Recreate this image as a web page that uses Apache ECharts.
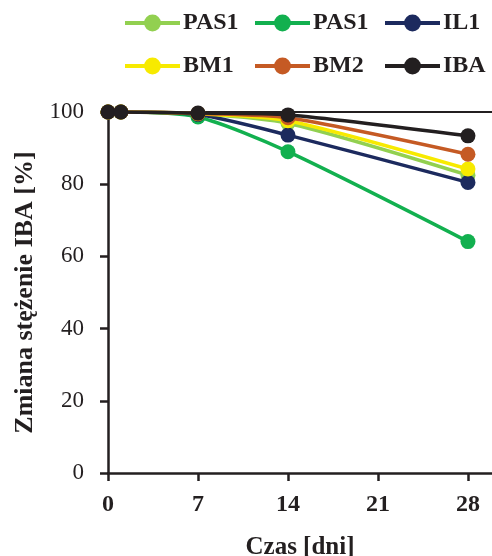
<!DOCTYPE html>
<html>
<head>
<meta charset="utf-8">
<script src="https://cdn.jsdelivr.net/npm/echarts@6/dist/echarts.min.js"></script>
<style>
  html, body { margin: 0; padding: 0; background: #fff; }
  #main { width: 492px; height: 556px; }
</style>
</head>
<body>
<div id="main"></div>
<script>
var chart = echarts.init(document.getElementById('main'));

// dni pomiaru
var days = [0, 1, 7, 14, 28];
var xTicks = [0, 7, 14, 21, 28];
var yTicks = [0, 20, 40, 60, 80, 100];

// zmiana stezenia IBA [%]
var pas1a = [100, 100, 99.5, 96.9, 82.5];
var pas1b = [100, 100, 98.6, 89.0, 64.1];
var il1 = [100, 100, 99.3, 93.6, 80.5];
var bm1 = [100, 100, 99.5, 97.6, 84.2];
var bm2 = [100, 100, 99.6, 98.4, 88.3];
var iba = [100, 100, 99.7, 99.2, 93.4];

var keys = ['PAS1a', 'PAS1b', 'IL1', 'BM1', 'BM2', 'IBA'];
var labels = { PAS1a: 'PAS1', PAS1b: 'PAS1', IL1: 'IL1', BM1: 'BM1', BM2: 'BM2', IBA: 'IBA' };
var values = [pas1a, pas1b, il1, bm1, bm2, iba];
var colors = ['#92d050', '#12b04f', '#1c2a5e', '#f7ea00', '#c55a24', '#231f20'];

var ink = '#231f20';
var font = '"Liberation Serif", "Times New Roman", serif';

function pairs(arr) {
  return arr.map(function (v, i) { return [days[i], v]; });
}

var series = keys.map(function (k, i) {
  return {
    name: k,
    type: 'line',
    data: pairs(values[i]),
    smooth: 0.25,
    symbol: 'circle',
    symbolSize: 15,
    lineStyle: { width: 3.5, color: colors[i] },
    itemStyle: { color: colors[i] },
    z: 3 + i
  };
});

function legendCol(names, left) {
  return {
    orient: 'vertical',
    left: left,
    top: 6,
    data: names,
    itemWidth: 55,
    itemHeight: 21,
    itemGap: 19,
    selectedMode: false,
    formatter: function (n) { return labels[n]; },
    lineStyle: { width: 4 },
    textStyle: { fontFamily: font, fontWeight: 'bold', fontSize: 24, color: ink, padding: [0, 0, 0, -2] }
  };
}

var option = {
  animation: false,
  color: colors,
  legend: [
    legendCol(['PAS1a', 'BM1'], 118),
    legendCol(['PAS1b', 'BM2'], 248),
    legendCol(['IL1', 'IBA'], 378)
  ],
  grid: { left: 108, top: 112, bottom: 83, right: 0, outerBoundsMode: 'none' },
  xAxis: [{
    type: 'value',
    min: 0,
    max: 29.87,
    interval: 7,
    name: 'Czas [dni]',
    nameLocation: 'middle',
    nameGap: 62,
    nameTextStyle: { fontFamily: font, fontWeight: 'bold', fontSize: 25, color: ink },
    axisLine: { lineStyle: { color: ink, width: 2.5 } },
    axisTick: { show: true, length: 8, lineStyle: { color: ink, width: 2.5 } },
    axisLabel: {
      margin: 20, fontFamily: font, fontWeight: 'bold', fontSize: 24, color: ink,
      showMaxLabel: false,
      formatter: function (v) { return xTicks.indexOf(v) >= 0 ? String(v) : ''; }
    },
    splitLine: { show: false }
  }, {
    type: 'value',
    position: 'top',
    min: 0,
    max: 29.87,
    axisLine: { show: true, onZero: false, lineStyle: { color: ink, width: 2 } },
    axisTick: { show: false },
    axisLabel: { show: false },
    splitLine: { show: false }
  }],
  yAxis: {
    type: 'value',
    min: 0,
    max: 100,
    interval: 20,
    name: 'Zmiana stężenie IBA [%]',
    nameLocation: 'middle',
    nameGap: 68,
    nameTextStyle: { fontFamily: font, fontWeight: 'bold', fontSize: 26, color: ink },
    axisLine: { show: true, lineStyle: { color: ink, width: 2.5 } },
    axisTick: { show: true, length: 8, lineStyle: { color: ink, width: 2.5 } },
    axisLabel: {
      margin: 24, fontFamily: font, fontSize: 23, color: ink,
      formatter: function (v) { return yTicks.indexOf(v) >= 0 ? String(v) : ''; }
    },
    splitLine: { show: false }
  },
  series: series
};
chart.setOption(option);
</script>
</body>
</html>
